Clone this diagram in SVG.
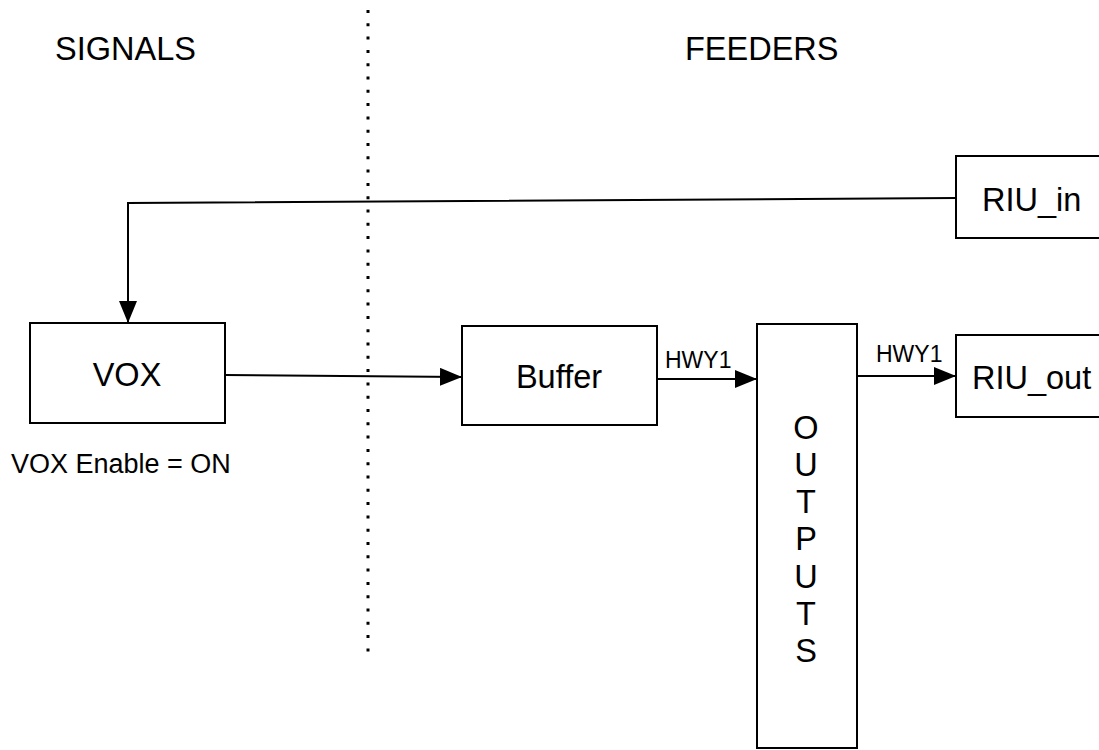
<svg xmlns="http://www.w3.org/2000/svg" width="1099" height="750" viewBox="0 0 1099 750">
<style>
text{font-family:"Liberation Sans",Arial,sans-serif;fill:#000}
.box{fill:#fff;stroke:#000;stroke-width:2}
.big{font-size:32.5px}
.lbl{font-size:23px}
.edge{fill:none;stroke:#000;stroke-width:2}
</style>
<defs>
<marker id="arr" viewBox="0 0 22 18" refX="22" refY="9" markerWidth="22" markerHeight="18" markerUnits="userSpaceOnUse" orient="auto">
<path d="M0,0 L22,9 L0,18 Z" fill="#000"/>
</marker>
</defs>
<rect width="1099" height="750" fill="#fff"/>
<line x1="368" y1="10" x2="368" y2="656" stroke="#000" stroke-width="3" stroke-dasharray="3 10.3"/>
<text class="big" x="55" y="60">SIGNALS</text>
<text class="big" x="685" y="60">FEEDERS</text>
<g id="connectors">
<polyline class="edge" points="956,198 128,203 128,323" marker-end="url(#arr)"/>
<line class="edge" x1="225" y1="375" x2="462" y2="377" marker-end="url(#arr)"/>
<line class="edge" x1="657" y1="379" x2="757" y2="379" marker-end="url(#arr)"/>
<line class="edge" x1="857" y1="376" x2="956" y2="376" marker-end="url(#arr)"/>
<text class="lbl" x="665" y="368">HWY1</text>
<text class="lbl" x="876" y="362">HWY1</text>
</g>
<g id="vox">
<rect class="box" x="30" y="323" width="195" height="100"/>
<text class="big" x="127" y="386" text-anchor="middle">VOX</text>
<text x="11" y="473" style="font-size:27px">VOX Enable = ON</text>
</g>
<g id="buffer">
<rect class="box" x="462" y="326" width="195" height="99"/>
<text class="big" x="559" y="388" text-anchor="middle">Buffer</text>
</g>
<g id="outputs">
<rect class="box" x="757" y="324" width="100" height="424"/>
<g class="big" text-anchor="middle">
<text x="806" y="439">O</text>
<text x="806" y="476">U</text>
<text x="806" y="513">T</text>
<text x="806" y="550">P</text>
<text x="806" y="588">U</text>
<text x="806" y="625">T</text>
<text x="806" y="662">S</text>
</g>
</g>
<g id="riu_in">
<rect class="box" x="956" y="156" width="160" height="82"/>
<text class="big" x="982" y="211">RIU_in</text>
</g>
<g id="riu_out">
<rect class="box" x="956" y="335" width="160" height="82"/>
<text class="big" x="972" y="389">RIU_out</text>
</g>
</svg>
